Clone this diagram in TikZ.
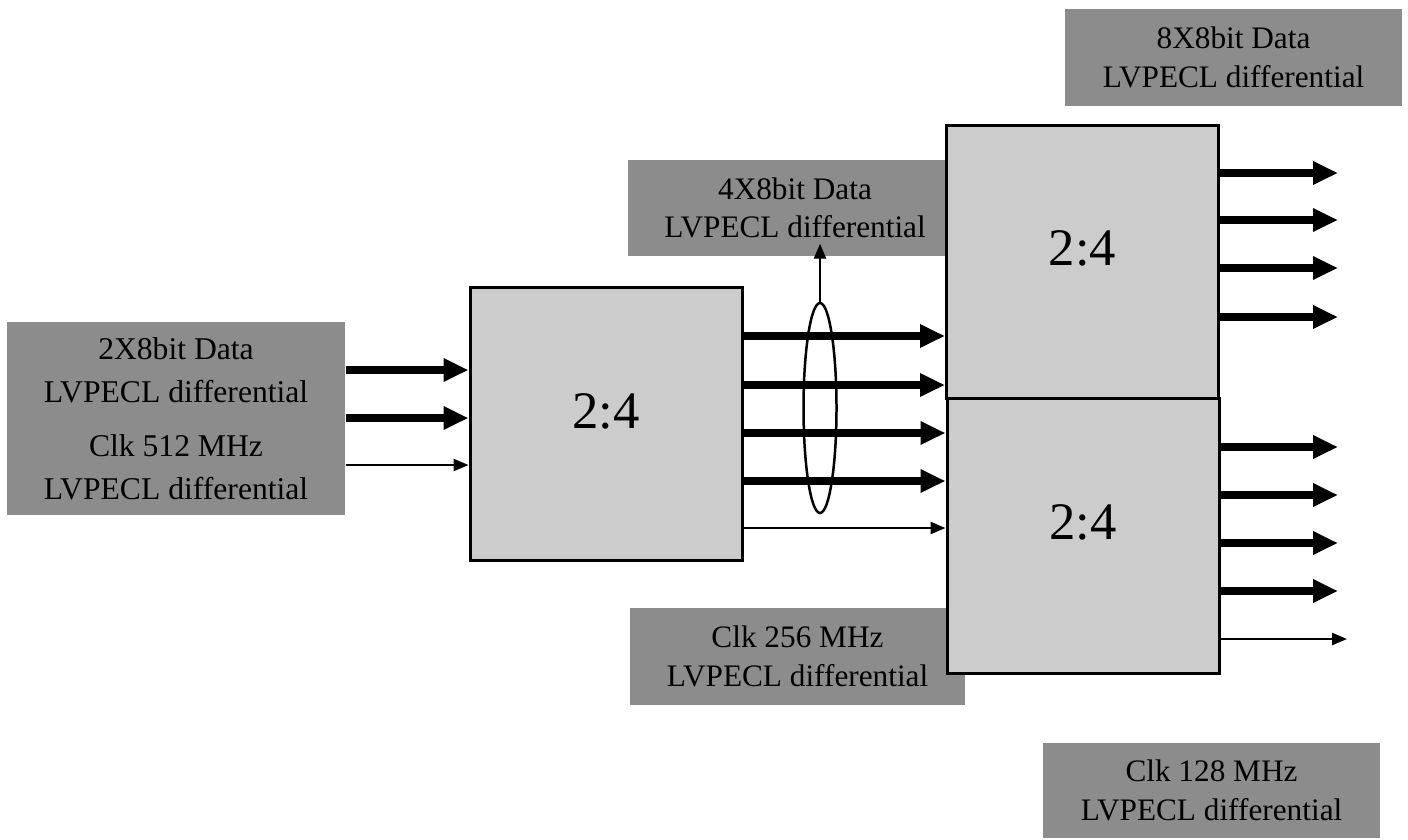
\documentclass[tikz,border=0pt]{standalone}
\usepackage{fontspec}
\setmainfont{Liberation Serif}
\usetikzlibrary{arrows.meta,shapes.geometric}
\definecolor{lblgray}{gray}{0.55}
\definecolor{blkgray}{gray}{0.80}
\begin{document}
\begin{tikzpicture}[x=0.1mm, y=-0.1mm,
  lbl/.style={fill=lblgray, inner sep=0pt, align=center, font=\fontsize{8.9}{11}\selectfont},
  blk/.style={draw=black, line width=0.3mm, fill=blkgray, minimum width=27.2mm, minimum height=27.3mm,
    inner sep=0pt, text depth=2.6mm, font=\fontsize{15}{18}\selectfont},
  bus/.style={line width=0.8mm, -{Triangle[length=2.5mm,width=2.2mm]}},
  sig/.style={line width=0.25mm, -{Triangle[length=1.5mm,width=1.2mm]}}]
\useasboundingbox (0,0) rectangle (1408,839);
% label boxes
\node[lbl, minimum width=33.8mm, minimum height=19.3mm, font=\fontsize{9}{12.2}\selectfont] (lblIn) at (176,418.5)
  {2X8bit Data\\LVPECL differential\\[1.1mm]Clk 512 MHz\\LVPECL differential};
\node[lbl, minimum width=33.4mm, minimum height=9.6mm] (lblMid) at (795,208) {4X8bit Data\\LVPECL differential};
\node[lbl, minimum width=33.7mm, minimum height=9.7mm] (lblOut) at (1233.5,57.5) {8X8bit Data\\LVPECL differential};
\node[lbl, minimum width=33.5mm, minimum height=9.7mm] (clkMid) at (797.5,656.5) {Clk 256 MHz\\LVPECL differential};
\node[lbl, minimum width=33.7mm, minimum height=9.5mm] (clkOut) at (1211.5,790.5) {Clk 128 MHz\\LVPECL differential};
%% demux blocks
\node[blk] (blkA) at (606,424) {2:4};
\node[blk] (blkB) at (1082.5,261.5) {2:4};
\node[blk, minimum height=27.5mm] (blkC) at (1083,535.5) {2:4};
%% inputs
\foreach \y in {370,418} \draw[bus] (lblIn.east |- 0,\y) -- (blkA.west |- 0,\y);
\draw[sig] (lblIn.east |- 0,465) -- (blkA.west |- 0,465);
%% first stage to second stage
\foreach \y in {336,385} \draw[bus] (blkA.east |- 0,\y) -- (blkB.west |- 0,\y);
\foreach \y in {433,481} \draw[bus] (blkA.east |- 0,\y) -- (blkC.west |- 0,\y);
\draw[sig] (blkA.east |- 0,528) -- (blkC.west |- 0,528);
% bundle
\node[draw, ellipse, line width=0.25mm, minimum width=3.3mm, minimum height=21mm, inner sep=0pt] (grp) at (820,408) {};
\draw[sig, shorten >=-1.3mm] (grp.north) -- (grp.north |- lblMid.south);
%% outputs
\foreach \y [count=\i] in {173,220,268,317} {\coordinate (oB\i) at (1338,\y); \draw[bus] (blkB.east |- oB\i) -- (oB\i);}
\foreach \y [count=\i] in {447,495,543,591} {\coordinate (oC\i) at (1338,\y); \draw[bus] (blkC.east |- oC\i) -- (oC\i);}
\coordinate (oC5) at (1347,639);
\draw[sig] (blkC.east |- oC5) -- (oC5);
\end{tikzpicture}
\end{document}
